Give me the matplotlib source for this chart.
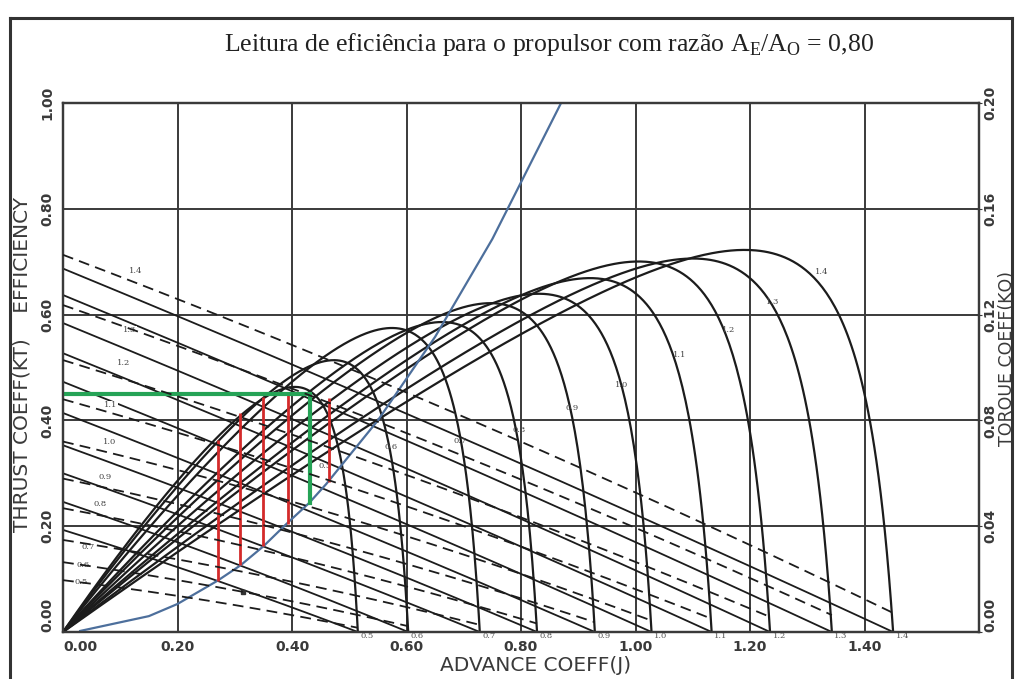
import numpy as np
import matplotlib
matplotlib.use("Agg")
import matplotlib.pyplot as plt
from matplotlib.lines import Line2D
from matplotlib.transforms import Bbox

plt.rcParams['mathtext.fontset'] = 'custom'
plt.rcParams['mathtext.rm'] = 'Liberation Serif'
plt.rcParams['font.family'] = ['DejaVu Sans']

# ---- open-water data, one entry per pitch ratio P/D ----
pitch_labels = ["0.5", "0.6", "0.7", "0.8", "0.9", "1.0", "1.1", "1.2", "1.3", "1.4"]
j_zero_thrust = [0.515, 0.603, 0.728, 0.828, 0.929, 1.028, 1.133, 1.235, 1.343, 1.450]
kt_start = [0.193, 0.246, 0.300, 0.353, 0.414, 0.473, 0.527, 0.584, 0.637, 0.687]
kt_mid = [0.1013, 0.1290, 0.1560, 0.1836, 0.2132, 0.2436, 0.2714, 0.3008, 0.3280, 0.3538]
kq_start = [0.0196, 0.0264, 0.0348, 0.0468, 0.0580, 0.0720, 0.0880, 0.1028, 0.1236, 0.1426]
kq_mid = [0.0117, 0.0157, 0.0206, 0.0275, 0.0339, 0.0420, 0.0500, 0.0580, 0.0690, 0.0790]
kq_end = [0.0016, 0.0022, 0.0027, 0.0032, 0.0037, 0.0043, 0.0050, 0.0057, 0.0064, 0.0072]

# label anchors for the efficiency curves and the torque lines
eta_label_j = [0.458, 0.573, 0.693, 0.797, 0.889, 0.976, 1.078, 1.162, 1.240, 1.326]
eta_label_v = [0.314, 0.350, 0.361, 0.382, 0.423, 0.467, 0.524, 0.571, 0.624, 0.680]
kq_label_j = [0.031, 0.035, 0.044, 0.065, 0.073, 0.082, 0.084, 0.105, 0.117, 0.1275]
kq_label_v = [0.0945, 0.127, 0.161, 0.242, 0.293, 0.359, 0.429, 0.508, 0.571, 0.682]

# ship load curve KT = f(J)
load_j = [0.03, 0.15, 0.20, 0.27, 0.31, 0.35, 0.39, 0.43, 0.46, 0.55, 0.65, 0.75, 0.87]
load_kt = [0.002, 0.030, 0.053, 0.097, 0.126, 0.162, 0.204, 0.244, 0.280, 0.400, 0.558, 0.743, 1.000]

# reading lines
red_j = [0.271, 0.309, 0.350, 0.393, 0.464]
red_low = [0.097, 0.126, 0.162, 0.204, 0.284]
red_high = [0.363, 0.414, 0.444, 0.450, 0.442]
green_j = 0.431
green_eta = 0.450
green_kt = 0.244

x_ticks = [0.0, 0.2, 0.4, 0.6, 0.8, 1.0, 1.2, 1.4]
x_tick_labels = ["0.00", "0.20", "0.40", "0.60", "0.80", "1.00", "1.20", "1.40"]
y_ticks = [0.0, 0.2, 0.4, 0.6, 0.8, 1.0]
y_tick_labels = ["0.00", "0.20", "0.40", "0.60", "0.80", "1.00"]
kq_ticks = [0.0, 0.04, 0.08, 0.12, 0.16, 0.20]
kq_tick_labels = ["0.00", "0.04", "0.08", "0.12", "0.16", "0.20"]

INK = "#1c1c1c"
GRID = "#3a3a3a"
TXT = "#3a3a3a"


def through_three(t, a, m, b):
    """Quadratic passing through (0,a), (0.5,m), (1,b)."""
    return a * (1 - t) * (1 - 2 * t) + 4 * m * t * (1 - t) + b * t * (2 * t - 1)


W, H = 1019, 679
fig = plt.figure(figsize=(W / 100, H / 100), dpi=100)
ax = fig.add_axes([63 / W, 47 / H, 916 / W, 529 / H])
ax.set_xlim(0, 1.6)
ax.set_ylim(0, 1.0)
ax2 = ax.twinx()
ax2.set_ylim(0, 0.20)

for a in (ax, ax2):
    for s in a.spines.values():
        s.set_linewidth(1.6)
        s.set_color(GRID)

ax.set_xticks(x_ticks)
ax.set_xticklabels(x_tick_labels, fontsize=10, color=TXT, fontweight="bold")
ax.set_yticks(y_ticks)
ax.set_yticklabels(y_tick_labels, fontsize=10, color=TXT, rotation=90, va="center",
                   fontweight="bold")
ax2.set_yticks(kq_ticks)
ax2.set_yticklabels(kq_tick_labels, fontsize=10, color=TXT, rotation=90, va="center",
                    fontweight="bold")
ax.tick_params(axis="both", length=0, pad=6)
ax2.tick_params(axis="y", length=4, direction="inout", pad=1, color=GRID)
ax.get_xticklabels()[0].set_ha("left")
ax.get_yticklabels()[0].set_va("bottom")
ax2.get_yticklabels()[0].set_va("bottom")
ax.grid(True, color=GRID, linewidth=1.4)
ax.set_axisbelow(True)

t = np.linspace(0.0, 1.0, 400)
for i, lab in enumerate(pitch_labels):
    j = t * j_zero_thrust[i]
    kt = through_three(t, kt_start[i], kt_mid[i], 0.0)
    kq = through_three(t, kq_start[i], kq_mid[i], kq_end[i])
    eta = j * kt / (2 * np.pi * kq)
    ax.plot(j, kt, color=INK, lw=1.3, zorder=3)
    ax2.plot(j, kq, color=INK, lw=1.3, dashes=(6, 3.5), zorder=3)
    ax.plot(j, eta, color=INK, lw=1.6, zorder=3)
    ax.text(eta_label_j[i], eta_label_v[i], lab, fontsize=6, family="DejaVu Serif",
            color="#444444", ha="center", va="center", zorder=4)
    ax.text(j_zero_thrust[i] + 0.016, -0.008, lab, fontsize=6, family="DejaVu Serif",
            color="#555555", ha="center", va="center", zorder=4, clip_on=False)
    ax.text(kq_label_j[i], kq_label_v[i], lab, fontsize=6, family="DejaVu Serif",
            color="#444444", ha="center", va="center", zorder=4,
            bbox=dict(facecolor="white", edgecolor="none", pad=0.3))

ax.plot(load_j, load_kt, color="#4d6f9c", lw=1.6, zorder=5)
ax.vlines(red_j, red_low, red_high, colors="#d42a2a", lw=2.0, zorder=6)
ax.plot([0, green_j, green_j], [green_eta, green_eta, green_kt], color="#25a356",
        lw=3.0, zorder=7, solid_joinstyle="miter")
ax.plot([0.314], [0.0756], marker="s", ms=2.2, color="#333333", zorder=4)

ax.set_xlabel("ADVANCE COEFF(J)", fontsize=14.5, color=TXT)
ax.xaxis.set_label_coords(0.516, -0.045)

fig.text(22 / W, 1 - 365 / H, "THRUST COEFF(KT)    EFFICIENCY", rotation=90,
         fontsize=14.5, color=TXT, ha="center", va="center")
rt = fig.text(1007 / W, 1 - 358 / H, "TORQUE COEFF(KQ)", rotation=90,
              fontsize=12.5, color=TXT, ha="center", va="center")
rt.set_clip_box(Bbox.from_extents(0, 0, 1011, H))
rt.set_clip_on(True)

fig.text(549 / W, 1 - 45 / H,
         r"Leitura de eficiência para o propulsor com razão A$_\mathrm{E}$/A$_\mathrm{O}$ = 0,80",
         fontsize=18.5, family="Liberation Serif", color="#222222", ha="center", va="center")

# outer frame
for xs, ys in [([10, 10], [0, H - 18]), ([10, 1012], [H - 18, H - 18]), ([1012, 1012], [H - 18, 0])]:
    fig.add_artist(Line2D(np.array(xs) / W, np.array(ys) / H, color="#333333", lw=2.2,
                          transform=fig.transFigure))

fig.savefig("out.png", dpi=100)
